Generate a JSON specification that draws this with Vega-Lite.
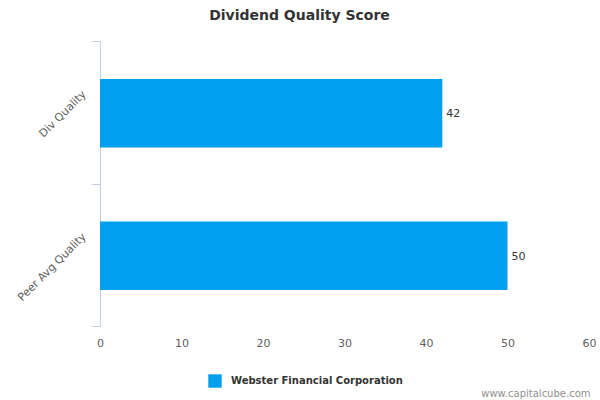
{
  "$schema": "https://vega.github.io/schema/vega-lite/v6.json",
  "width": 489,
  "height": 285,
  "autosize": "none",
  "padding": {"left": 100, "top": 41, "right": 11, "bottom": 74},
  "background": "white",
  "config": {
    "font": "DejaVu Sans",
    "view": {"stroke": null}
  },
  "title": {
    "text": "Dividend Quality Score",
    "fontSize": 14,
    "fontWeight": "bold",
    "color": "#333333",
    "anchor": "middle",
    "frame": "group",
    "offset": 14,
    "dx": -45
  },
  "data": {
    "values": [
      {"category": "Div Quality", "score": 42},
      {"category": "Peer Avg Quality", "score": 50}
    ]
  },
  "encoding": {
    "y": {
      "field": "category",
      "type": "nominal",
      "sort": null,
      "title": null,
      "scale": {"paddingInner": 0, "paddingOuter": 0},
      "axis": {
        "labelAngle": -45,
        "labelColor": "#606060",
        "labelFontSize": 11,
        "labelPadding": 7,
        "labelOffset": -20,
        "domainColor": "#c0d0e0",
        "tickColor": "#c0d0e0",
        "tickBand": "extent",
        "tickSize": 9,
        "grid": false
      }
    },
    "x": {
      "field": "score",
      "type": "quantitative",
      "scale": {"domain": [0, 60]},
      "axis": {
        "values": [0, 10, 20, 30, 40, 50, 60],
        "domain": false,
        "ticks": false,
        "grid": false,
        "labelColor": "#606060",
        "labelFontSize": 11,
        "labelPadding": 11,
        "labelFlush": false,
        "title": "www.capitalcube.com",
        "titleColor": "#909090",
        "titleFontSize": 10,
        "titleFontWeight": "normal",
        "titleAlign": "right",
        "titleAnchor": null,
        "titleX": 490,
        "titleY": 70,
        "titleBaseline": "alphabetic"
      }
    }
  },
  "layer": [
    {
      "mark": {"type": "bar", "height": {"band": 0.48}, "yOffset": 1},
      "encoding": {
        "color": {
          "datum": "Webster Financial Corporation",
          "type": "nominal",
          "scale": {"range": ["#039fef"]},
          "legend": {
            "title": null,
            "orient": "none",
            "legendX": 108,
            "legendY": 333,
            "symbolType": "square",
            "symbolSize": 180,
            "symbolStrokeWidth": 0,
            "labelFontSize": 10,
            "labelFontWeight": "bold",
            "labelColor": "#333333",
            "labelOffset": 9,
            "labelLimit": 400
          }
        }
      }
    },
    {
      "mark": {"type": "text", "align": "left", "dx": 4, "dy": 2, "fontSize": 11, "color": "#333333"},
      "encoding": {"text": {"field": "score", "type": "quantitative"}}
    }
  ]
}
